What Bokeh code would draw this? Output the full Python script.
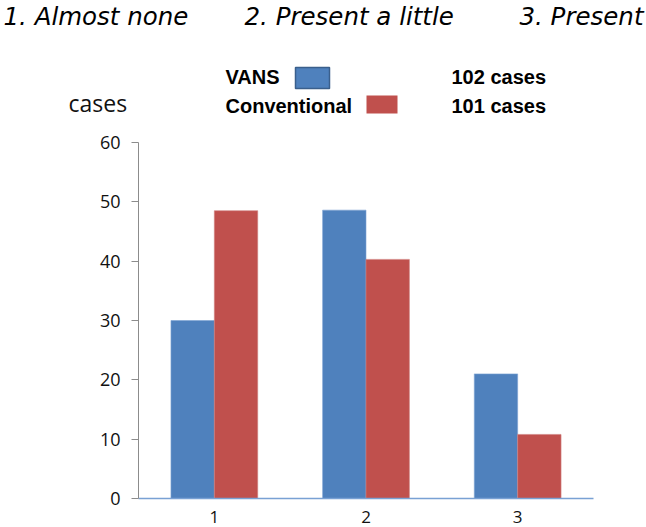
from bokeh.plotting import figure
from bokeh.models import Range1d, FixedTicker, ColumnDataSource
from bokeh.core.properties import value
from bokeh.transform import dodge
from bokeh.embed import file_html
from bokeh.resources import INLINE

# ---- data ----
categories = ["1", "2", "3"]
cat_pos = [1, 2, 3]
vans = [30.0, 48.6, 21.0]
conventional = [48.5, 40.3, 10.8]
y_ticks = [0, 10, 20, 30, 40, 50, 60]
title_labels = ["1. Almost  none", "2. Present a little", "3. Present"]
legend_names = ["VANS", "Conventional"]
legend_counts = ["102 cases", "101 cases"]
y_label = "cases"

BLUE = "#4f81bd"
RED = "#c0504d"

W = 646
H_TOP = 128
H_BOT = 527 - H_TOP

# ---------------- header figure (titles, legend, "cases") ----------------
top = figure(width=W, height=H_TOP, x_range=Range1d(0, W), y_range=Range1d(H_TOP, 0),
             min_border=0, output_backend="svg", toolbar_location=None)
top.axis.visible = False
top.grid.visible = False
top.outline_line_color = None

# title row
top.text(x=[3, 244], y=[16, 16], text=title_labels[:2],
         text_font=value("DejaVu Sans"), text_font_style="italic",
         text_font_size="24.5px", text_color="#000000",
         text_align="left", text_baseline="alphabetic")
top.text(x=[643], y=[16], text=title_labels[2:],
         text_font=value("DejaVu Sans"), text_font_style="italic",
         text_font_size="24.5px", text_color="#000000",
         text_align="right", text_baseline="alphabetic")

# legend texts
top.text(x=[225, 225], y=[76, 105], text=legend_names,
         text_font=value("Liberation Sans"), text_font_style="bold",
         text_font_size="20px", text_color="#000000", text_baseline="alphabetic")
top.text(x=[451, 451], y=[76, 105], text=legend_counts,
         text_font=value("Liberation Sans"), text_font_style="bold",
         text_font_size="20px", text_color="#000000", text_baseline="alphabetic")
# legend swatches
top.quad(left=[295], right=[329], top=[67], bottom=[88],
         fill_color=BLUE, line_color="#3a5f8c", line_width=1.5)
top.quad(left=[366], right=[397], top=[95], bottom=[113],
         fill_color=RED, line_color=None)

# "cases" axis caption
top.text(x=[68], y=[102], text=[y_label], text_font=value("Open Sans"),
         text_font_size="23px", text_color="#111111", text_baseline="alphabetic")

# ---------------- bar chart ----------------
FL = 138           # frame left (px)
FT = 142 - H_TOP   # frame top inside this figure
FW = 455
FH = 356
p = figure(width=W, height=H_BOT, frame_width=FW, frame_height=FH,
           min_border_left=FL, min_border_top=FT,
           min_border_right=W - FL - FW, min_border_bottom=H_BOT - FT - FH,
           x_range=Range1d(0.5, 3.5), y_range=Range1d(0, 60),
           output_backend="svg", toolbar_location=None)
p.outline_line_color = None
p.xgrid.visible = False
p.ygrid.visible = False

src = ColumnDataSource(dict(x=cat_pos, vans=vans, conv=conventional))
p.vbar(x=dodge("x", -0.143), top="vans", width=0.286, source=src,
       fill_color=BLUE, line_color="#7ea3d3", line_width=0.6)
p.vbar(x=dodge("x", 0.143), top="conv", width=0.286, source=src,
       fill_color=RED, line_color="#d07f7d", line_width=0.6)

p.xaxis.ticker = FixedTicker(ticks=cat_pos)
p.xaxis.major_label_overrides = {c: l for c, l in zip(cat_pos, categories)}
p.xaxis.major_tick_line_color = None
p.xaxis.minor_tick_line_color = None
p.xaxis.axis_line_color = "#79a1d4"
p.xaxis.axis_line_width = 1.3
p.xaxis.major_label_text_font = "Open Sans"
p.xaxis.major_label_text_font_size = "17px"
p.xaxis.major_label_text_color = "#111111"
p.xaxis.major_label_standoff = 6

p.yaxis.ticker = FixedTicker(ticks=y_ticks)
p.yaxis.minor_tick_line_color = None
p.yaxis.axis_line_color = "#8c8c8c"
p.yaxis.major_tick_line_color = "#8c8c8c"
p.yaxis.major_tick_out = 7
p.yaxis.major_tick_in = 0
p.yaxis.major_label_standoff = 11
p.yaxis.major_label_text_font = "Open Sans"
p.yaxis.major_label_text_font_size = "18px"
p.yaxis.major_label_text_color = "#111111"

open("out.html", "w").write(file_html([top, p], INLINE))
